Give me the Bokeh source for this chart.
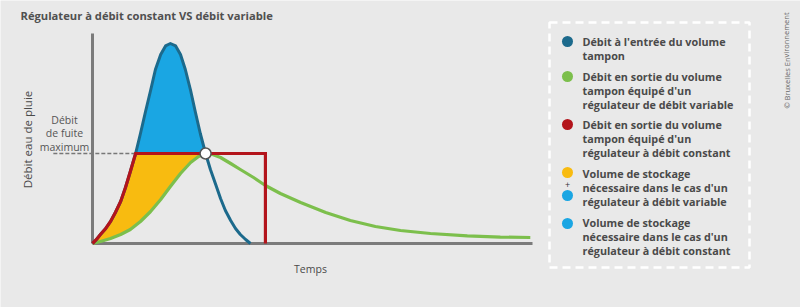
from bokeh.plotting import figure
from bokeh.models import Range1d
from bokeh.core.properties import value
from bokeh.embed import file_html
from bokeh.resources import INLINE

# ---------------- data (time units, flow units) ----------------
# Inflow to the buffer volume (blue hydrograph)
inflow_t = [0, 0.9, 1.8, 3.0, 4.1, 5.2, 6.4, 7.5, 8.6, 9.8, 10.9, 12.0, 13.2, 14.3, 15.5, 16.6, 17.7,
            18.9, 20.0, 21.1, 22.3, 23.4, 24.5, 25.7, 26.8, 28.0, 29.1, 30.2, 31.4, 32.5, 33.6, 34.8, 35.9]
inflow_q = [0, 2, 4.5, 7.5, 11, 15.5, 21, 28, 36, 45, 55, 65.5, 76.5, 87, 94.5, 98.8, 100,
            98.8, 94.5, 87, 76.5, 65.5, 55, 45, 37, 29.5, 22.5, 16.5, 11.5, 7.5, 4.5, 2, 0]

# Outflow with variable-flow regulator (green)
var_t = [0, 1.8, 4.1, 6.4, 8.6, 10.9, 13.2, 15.5, 17.7, 20.0, 22.3, 24.1, 25.7, 27.3, 29.1, 31.4, 33.6,
         36.6, 39.3, 42.7, 47.3, 53.0, 58.6, 64.3, 70.0, 76.8, 85.2, 92.7, 99.5]
var_q = [0, 1, 2.5, 4.5, 7, 11, 16, 22, 28.5, 35, 40.5, 43.5, 45, 44.5, 43, 40, 37,
         33, 29, 25, 20.5, 15.5, 11.5, 8.5, 6.5, 5, 3.8, 3.2, 3]

# Constant-flow regulator: max leak flow and end of emptying
q_max = 45
const_end_t = 39.3
peak_t = 25.7          # crossing point (white marker)

x_axis_end = 100
y_axis_end = 105

title = "Régulateur à débit constant VS débit variable"
y_label = "Débit eau de pluie"
x_label = "Temps"
leak_label = ["Débit", "de fuite", "maximum"]
credit = "© Bruxelles Environnement"

legend_lines = [
    ["Débit à l'entrée du volume", "tampon"],
    ["Débit en sortie du volume", "tampon équipé d'un", "régulateur de débit variable"],
    ["Débit en sortie du volume", "tampon équipé d'un", "régulateur à débit constant"],
    ["Volume de stockage", "nécessaire dans le cas d'un", "régulateur à débit variable"],
    ["Volume de stockage", "nécessaire dans le cas d'un", "régulateur à débit constant"],
]

# ---------------- colours ----------------
BG = "#e9e9e9"
AXIS = "#7b7b7b"
TEAL = "#1c6a8c"
SKY = "#1aa6e3"
GREEN = "#7cbf4c"
RED = "#b3141b"
YELLOW = "#f8bb10"
TXT = "#4a4a4a"

p = figure(width=800, height=307, min_border=0, toolbar_location=None,
           output_backend="svg", x_axis_location=None, y_axis_location=None,
           x_range=Range1d(-92 / 4.4, 708 / 4.4), y_range=Range1d(-32, 121.5))
p.grid.visible = False
p.outline_line_color = None
p.background_fill_color = BG
p.border_fill_color = BG
p.extra_x_ranges = {"px": Range1d(0, 800)}
p.extra_y_ranges = {"px": Range1d(307, 0)}

# index where inflow reaches q_max on the rise and on the fall
i_up = inflow_q.index(q_max)
i_down = len(inflow_q) - 1 - inflow_q[::-1].index(q_max)
i_green_peak = var_q.index(max(var_q))

# yellow fill: between constant-regulator curve and variable-regulator curve
yx = inflow_t[:i_up + 1] + [var_t[i_green_peak]] + var_t[:i_green_peak + 1][::-1]
yy = inflow_q[:i_up + 1] + [q_max] + var_q[:i_green_peak + 1][::-1]
p.patch(yx, yy, fill_color=YELLOW, line_color=None)

# blue fill: inflow above max leak flow
p.patch(inflow_t[i_up:i_down + 1], inflow_q[i_up:i_down + 1], fill_color=SKY, line_color=None)

# dashed leak flow reference
p.line([-8.9, inflow_t[i_up]], [q_max, q_max], line_color="#777777", line_width=1.3, line_dash="4 2")

# axes
p.line([0, 0], [0, y_axis_end], line_color=AXIS, line_width=3)
p.line([0, x_axis_end], [0, 0], line_color=AXIS, line_width=3)

# curves
p.line(var_t, var_q, line_color=GREEN, line_width=3.2, line_join="round")
p.line(inflow_t, inflow_q, line_color=TEAL, line_width=3, line_join="round")
red_t = inflow_t[:i_up + 1] + [const_end_t, const_end_t]
red_q = inflow_q[:i_up + 1] + [q_max, 0]
p.line(red_t, red_q, line_color=RED, line_width=3.2, line_join="miter")

p.scatter([peak_t], [q_max], size=11, fill_color="white", line_color="#555555", line_width=1.5)

# ---------------- texts (layout in pixel range) ----------------
FONT = "Open Sans"

def txt(x, y, s, size="11px", style="bold", color=TXT, align="left", angle=0):
    p.text(x=[x], y=[y], text=[s], x_range_name="px", y_range_name="px",
           text_font=value(FONT), text_font_size=size, text_font_style=style,
           text_color=color, text_align=align, text_baseline="middle", angle=angle)

txt(20, 15, title, size="11.2px", color="#505050")
txt(27, 139, y_label, size="11.5px", style="normal", align="center", angle=1.5708)
txt(310, 268, x_label, size="10.5px", style="normal", align="center")
for k, s in enumerate(leak_label):
    txt(64, 119 + k * 13.5, s, size="10.5px", style="normal", color="#555555", align="center")
txt(786, 60, credit, size="7.5px", style="normal", color="#666666", align="center", angle=1.5708)

# legend box
p.quad(left=[549], right=[749], top=[22], bottom=[267], x_range_name="px", y_range_name="px",
       fill_color=None, line_color="white", line_width=2.5, line_dash="8 5")

legend_y = [41, 76, 124, 173, 222]
for ys, lines in zip(legend_y, legend_lines):
    for k, s in enumerate(lines):
        txt(582, ys + k * 13.8, s, size="10.8px")

dot_x = [567, 567, 567, 567, 567, 567]
dot_y = [41, 76, 124, 172, 195, 223]
dot_c = [TEAL, GREEN, RED, YELLOW, SKY, SKY]
p.scatter(dot_x, dot_y, size=11, fill_color=dot_c, line_color=None,
          x_range_name="px", y_range_name="px")
txt(567, 184, "+", size="9px", style="normal", color="#333333", align="center")

open("out.html", "w").write(file_html(p, INLINE))
